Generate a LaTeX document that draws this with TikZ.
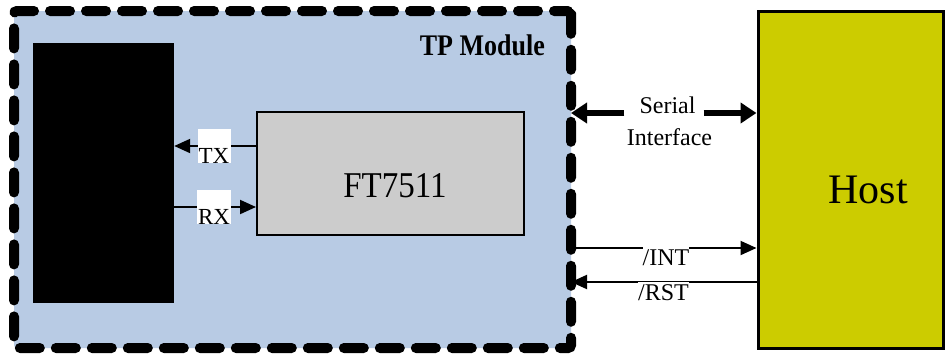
\documentclass[tikz,border=0pt]{standalone}
\usepackage{fontspec}
\usepackage{graphicx}
\setmainfont{Liberation Serif}
\usetikzlibrary{arrows.meta}
\definecolor{modblue}{HTML}{B8CBE4}
\definecolor{hostyel}{HTML}{CCCC00}
\definecolor{chipgray}{HTML}{CCCCCC}
\tikzset{
  modbox/.style={draw=black, fill=modblue, line width=10pt, line cap=round,
    dash pattern=on 20pt off 16pt, dash phase=6pt, rounded corners=3pt, outer sep=0pt,
    minimum width=557pt, minimum height=337pt, inner sep=0pt},
  blkbox/.style={fill=black, minimum width=141pt, minimum height=260pt, inner sep=0pt},
  chipbox/.style={draw=black, fill=chipgray, line width=2pt,
    minimum width=267pt, minimum height=123pt, inner sep=0pt},
  hostbox/.style={draw=black, fill=hostyel, line width=3pt,
    minimum width=185pt, minimum height=337pt, inner sep=0pt},
  txt/.style={font=\fontsize{24}{28}\selectfont, inner sep=0pt},
  pinlbl/.style={fill=white, font=\fontsize{23}{27}\selectfont, inner sep=0pt,
    text height=34pt, text depth=0pt},
  siglbl/.style={fill=white, font=\fontsize{24}{28}\selectfont, inner xsep=0pt, inner ysep=2pt},
  thinarrow/.style={line width=2pt, -{Triangle[length=16pt,width=14pt]}},
  bigarrow/.style={line width=6pt, -{Triangle[length=16pt,width=20pt]}},
}
\begin{document}
\begin{tikzpicture}[x=1pt,y=-1pt]
\useasboundingbox (0,0) rectangle (947,356);
% TP module
\node[modbox] (mod) at (292.5,179.5) {};
\node[font=\bfseries\fontsize{26}{30}\selectfont, inner sep=0pt, anchor=base east] (tp) at (545,55) {\scalebox{1}[1.15]{TP Module}};
% black block
\node[blkbox] (blk) at (103.5,173) {};
% FT7511 chip
\node[chipbox] (ft) at (390.5,173.5) {};
\node[font=\fontsize{33}{38}\selectfont, inner sep=0pt, anchor=base] (ftl) at (395,197) {\scalebox{1}[1.1]{FT7511}};
% TX / RX
\draw[thinarrow] ([yshift=27.5pt]ft.west) -- ([yshift=27.5pt]ft.west -| blk.east);
\draw[thinarrow] ([yshift=-33.5pt]ft.west -| blk.east) -- ([yshift=-33.5pt]ft.west);
\node[pinlbl, minimum width=33pt, anchor=base] (tx) at (214,163) {TX};
\node[pinlbl, minimum width=34pt, anchor=base] (rx) at (214,224) {RX};
% Host
\node[hostbox] (host) at (850.5,179.5) {};
\node[font=\fontsize{42}{46}\selectfont, inner sep=0pt, anchor=base] (hl) at (868,203) {Host};
% Serial interface
\node[txt, anchor=base] (ser) at (667.5,113) {Serial};
\node[txt, anchor=base] (itf) at (669.5,145) {Interface};
\draw[bigarrow] ([xshift=-15pt]ser.base west) -- (ser.base west -| mod.east);
\draw[bigarrow] ([xshift=8pt]ser.base east) -- (ser.base east -| host.west);
% /INT and /RST
\draw[thinarrow] ([yshift=-68.5pt]host.west -| mod.east) -- ([yshift=-68.5pt]host.west);
\draw[thinarrow] ([yshift=-102.5pt]host.west) -- ([yshift=-102.5pt]host.west -| mod.east);
\node[siglbl, anchor=base] (int) at (666,265) {/INT};
\node[siglbl, anchor=base] (rst) at (663.5,300) {/RST};
\end{tikzpicture}
\end{document}
